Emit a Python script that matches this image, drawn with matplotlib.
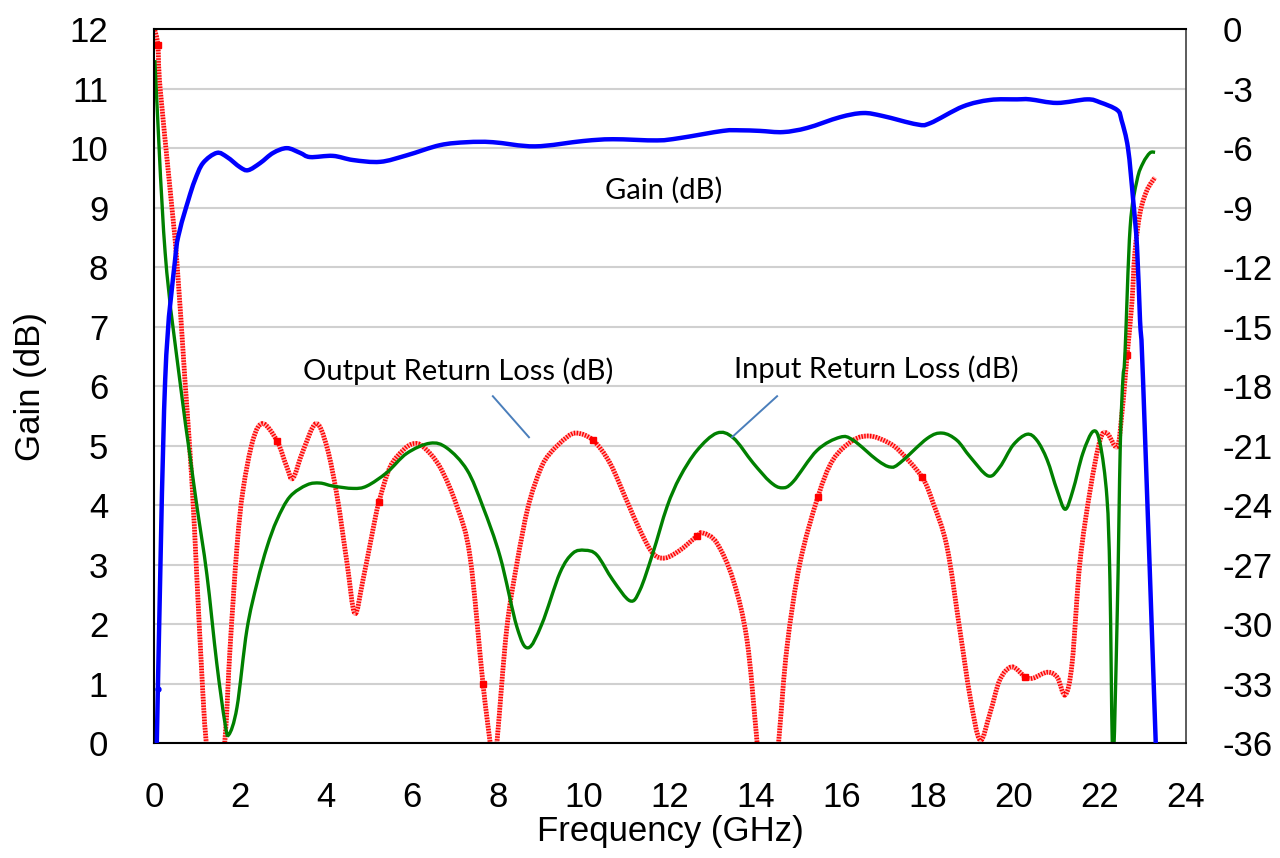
import matplotlib
matplotlib.use("Agg")
import matplotlib.pyplot as plt
from matplotlib.path import Path
from matplotlib.patches import PathPatch

plt.rcParams["axes.unicode_minus"] = False

# ---------------- data ----------------
gain_freq = [0.07, 0.09, 0.26, 0.49, 0.6, 0.8, 0.95, 1.14, 1.46, 1.7, 2.0, 2.19, 2.47, 2.77,
             3.09, 3.4, 3.63, 4.16, 4.63, 5.26, 5.88, 6.65, 7.28, 7.88, 8.86, 9.98, 10.67,
             11.7, 12.23, 13.23, 13.63, 14.09, 14.63, 15.19, 15.95, 16.49, 16.95, 17.74,
             18.05, 18.81, 19.44, 20.07, 20.37, 21.0, 21.7, 22.0, 22.4, 22.5, 22.65, 22.77,
             22.86, 22.93, 23.0, 23.3]
gain_db = [0.0, 0.9, 6.1, 8.12, 8.62, 9.13, 9.46, 9.75, 9.92, 9.85, 9.68, 9.63, 9.75, 9.92,
           10.0, 9.92, 9.85, 9.87, 9.8, 9.77, 9.88, 10.05, 10.1, 10.1, 10.03, 10.12, 10.15,
           10.13, 10.17, 10.29, 10.3, 10.29, 10.27, 10.34, 10.52, 10.59, 10.54, 10.4,
           10.42, 10.7, 10.81, 10.82, 10.82, 10.76, 10.82, 10.77, 10.64, 10.47, 10.0, 9.13,
           8.34, 7.1, 6.1, -0.1]

irl_freq = [0.02, 0.26, 0.6, 0.84, 1.0, 1.23, 1.46, 1.65, 1.74, 1.93, 2.16, 2.4, 2.63, 2.86,
            3.16, 3.56, 3.86, 4.16, 4.63, 4.95, 5.42, 5.88, 6.42, 6.81, 7.28, 7.65, 8.05,
            8.44, 8.7, 9.02, 9.44, 9.74, 10.02, 10.3, 10.67, 11.07, 11.3, 11.6, 11.93, 12.23,
            12.63, 13.09, 13.47, 13.93, 14.33, 14.6, 14.86, 15.42, 15.95, 16.26, 16.81,
            17.12, 17.35, 17.98, 18.33, 18.67, 18.98, 19.4, 19.67, 19.98, 20.3, 20.53,
            20.77, 21.0, 21.19, 21.37, 21.6, 21.84, 22.0, 22.16, 22.23, 22.3, 22.4, 22.47,
            22.53, 22.58, 22.7, 22.86, 23.0, 23.16, 23.28]
irl_db = [-1.56, -11.28, -17.7, -21.57, -24.09, -27.5, -31.98, -34.98, -35.58, -34.2, -30.3,
          -27.9, -26.1, -24.75, -23.58, -22.98, -22.89, -23.04, -23.16, -23.04, -22.35,
          -21.39, -20.88, -21.12, -22.23, -24.09, -26.61, -30.15, -31.2, -30.0, -27.42,
          -26.43, -26.28, -26.52, -27.78, -28.83, -28.29, -26.43, -24.09, -22.59, -21.24,
          -20.37, -20.61, -21.87, -22.83, -23.13, -22.83, -21.24, -20.58, -20.73, -21.72,
          -22.08, -21.87, -20.64, -20.37, -20.73, -21.57, -22.53, -22.08, -20.97, -20.43,
          -20.73, -21.72, -23.25, -24.21, -23.25, -21.39, -20.28, -20.88, -23.61, -27.78,
          -36.9, -29.46, -21.06, -17.7, -16.35, -9.99, -7.62, -6.75, -6.24, -6.21]

orl_freq = [0.02, 0.09, 0.14, 0.37, 0.53, 0.72, 0.88, 1.0, 1.12, 1.21, 1.43, 1.65, 1.77, 1.93,
            2.07, 2.3, 2.53, 2.86, 3.09, 3.23, 3.47, 3.77, 4.02, 4.26, 4.49, 4.67, 4.86, 5.09,
            5.23, 5.49, 5.79, 6.02, 6.26, 6.65, 7.05, 7.35, 7.65, 7.81, 7.9, 7.98, 8.2, 8.44,
            8.7, 8.98, 9.21, 9.6, 9.84, 10.21, 10.6, 10.99, 11.3, 11.6, 11.88, 12.23, 12.63,
            12.77, 13.09, 13.47, 13.79, 14.02, 14.28, 14.53, 14.72, 15.02, 15.44, 15.79,
            16.26, 16.65, 17.05, 17.35, 17.86, 18.12, 18.44, 18.74, 18.98, 19.21, 19.44,
            19.67, 19.95, 20.26, 20.44, 20.77, 21.0, 21.19, 21.35, 21.53, 21.77, 22.0, 22.16,
            22.4, 22.51, 22.58, 22.63, 22.74, 22.81, 22.93, 23.09, 23.28]
orl_db = [-0.06, -0.81, -2.91, -7.98, -11.64, -17.7, -22.74, -27.78, -32.82, -35.85, -40.5,
          -35.85, -31.17, -26.1, -23.25, -20.73, -19.89, -20.76, -22.08, -22.65, -21.24,
          -19.89, -21.06, -23.58, -26.94, -29.46, -27.78, -25.26, -23.85, -22.08, -21.24,
          -20.91, -21.06, -22.08, -24.09, -26.61, -33.0, -35.85, -37.2, -35.85, -30.3,
          -26.94, -24.09, -22.23, -21.39, -20.58, -20.37, -20.73, -21.87, -23.76, -25.26,
          -26.43, -26.67, -26.28, -25.56, -25.41, -25.92, -27.78, -30.81, -35.85, -42.0,
          -35.85, -31.17, -26.94, -23.58, -21.72, -20.73, -20.52, -20.82, -21.3, -22.59,
          -23.91, -26.1, -30.3, -33.69, -35.85, -34.5, -32.82, -32.16, -32.67, -32.73,
          -32.43, -32.67, -33.57, -31.98, -26.94, -23.25, -20.73, -20.37, -21.06, -19.35,
          -17.7, -16.44, -13.83, -11.28, -9.27, -8.13, -7.47]
orl_marker_idx = [1, 17, 28, 36, 47, 54, 64, 70, 79, 92]

x_ticks = list(range(0, 25, 2))
gain_ticks = list(range(0, 13))
rl_ticks = list(range(-36, 1, 3))


def smooth_path(xs, ys):
    """Excel-like smoothed line: cubic Bezier segments through the data points."""
    n = len(xs)
    verts = [(xs[0], ys[0])]
    codes = [Path.MOVETO]
    for i in range(n - 1):
        x0, y0 = (xs[i - 1], ys[i - 1]) if i > 0 else (xs[i], ys[i])
        x1, y1 = xs[i], ys[i]
        x2, y2 = xs[i + 1], ys[i + 1]
        x3, y3 = (xs[i + 2], ys[i + 2]) if i + 2 < n else (xs[i + 1], ys[i + 1])
        c1 = (x1 + (x2 - x0) / 6.0, y1 + (y2 - y0) / 6.0)
        c2 = (x2 - (x3 - x1) / 6.0, y2 - (y3 - y1) / 6.0)
        verts += [c1, c2, (x2, y2)]
        codes += [Path.CURVE4] * 3
    return Path(verts, codes)


# ---------------- figure ----------------
fig = plt.figure(figsize=(12.8, 8.58), dpi=100)
ax = fig.add_axes([0.1203, 0.134, 0.8063, 0.832])
ax2 = ax.twinx()

tick_font = "Liberation Sans"
note_font = "Lato"

ax2.set_zorder(1)
ax.set_zorder(2)
ax.patch.set_visible(False)

ax.set_xlim(0, 24)
ax.set_ylim(0, 12)
ax2.set_ylim(-36, 0)

# output return loss (red dotted)
orl_path = smooth_path(orl_freq, orl_db)
ax2.add_patch(PathPatch(orl_path, fill=False, edgecolor="#ffb3b3", lw=3.4,
                        capstyle="butt", zorder=3))
ax2.add_patch(PathPatch(orl_path, fill=False, edgecolor="red", lw=3.4,
                        linestyle=(0, (0.3, 0.3)), zorder=4))
ax2.plot([orl_freq[i] for i in orl_marker_idx], [orl_db[i] for i in orl_marker_idx],
         ls="none", marker="s", ms=4.5, color="red", zorder=5)

# input return loss (green)
ax2.add_patch(PathPatch(smooth_path(irl_freq, irl_db), fill=False, edgecolor="#008000",
                        lw=2.4, zorder=6))

# gain (blue)
ax.add_patch(PathPatch(smooth_path(gain_freq, gain_db), fill=False, edgecolor="#0000ff",
                       lw=3.2, zorder=5))
ax.plot([gain_freq[1]], [gain_db[1]], ls="none", marker="o", ms=3.5, color="#0000ff")

ax.set_xticks(x_ticks)
ax.set_yticks(gain_ticks)
ax2.set_yticks(rl_ticks)
ax2.set_xticks(x_ticks)

ax2.grid(True, color="#d0d0d0", lw=1.5)
ax2.set_axisbelow(True)
ax.grid(False)

for a in (ax, ax2):
    a.tick_params(length=0, labelsize=25)
    for lab in a.get_xticklabels() + a.get_yticklabels():
        lab.set_fontfamily(tick_font)
ax.tick_params(axis="y", pad=33)
ax.tick_params(axis="x", pad=27)
ax2.tick_params(axis="y", pad=26)

for s in ("left", "bottom", "top"):
    ax.spines[s].set_color("black")
    ax.spines[s].set_linewidth(1.5)
ax.spines["right"].set_visible(False)
ax2.spines["right"].set_color("#404040")
ax2.spines["right"].set_linewidth(1.2)
for s in ("left", "bottom", "top"):
    ax2.spines[s].set_visible(False)

ax.set_xlabel("Frequency (GHz)", fontsize=25, fontfamily=tick_font, labelpad=1)
ax.set_ylabel("Gain (dB)", fontsize=25, fontfamily=tick_font, labelpad=16)

# annotations
ax.text(11.86, 9.29, "Gain (dB)", fontsize=21, fontfamily=note_font, ha="center", va="center")
ax.text(7.07, 6.25, "Output Return Loss (dB)", fontsize=21, fontfamily=note_font,
        ha="center", va="center")
ax.text(16.8, 6.29, "Input Return Loss (dB)", fontsize=21, fontfamily=note_font,
        ha="center", va="center")
ax.plot([7.88, 8.72], [5.83, 5.14], color="#4a7ebb", lw=1.4)
ax.plot([14.49, 13.44], [5.83, 5.14], color="#4a7ebb", lw=1.4)

fig.savefig("out.png", dpi=100)
